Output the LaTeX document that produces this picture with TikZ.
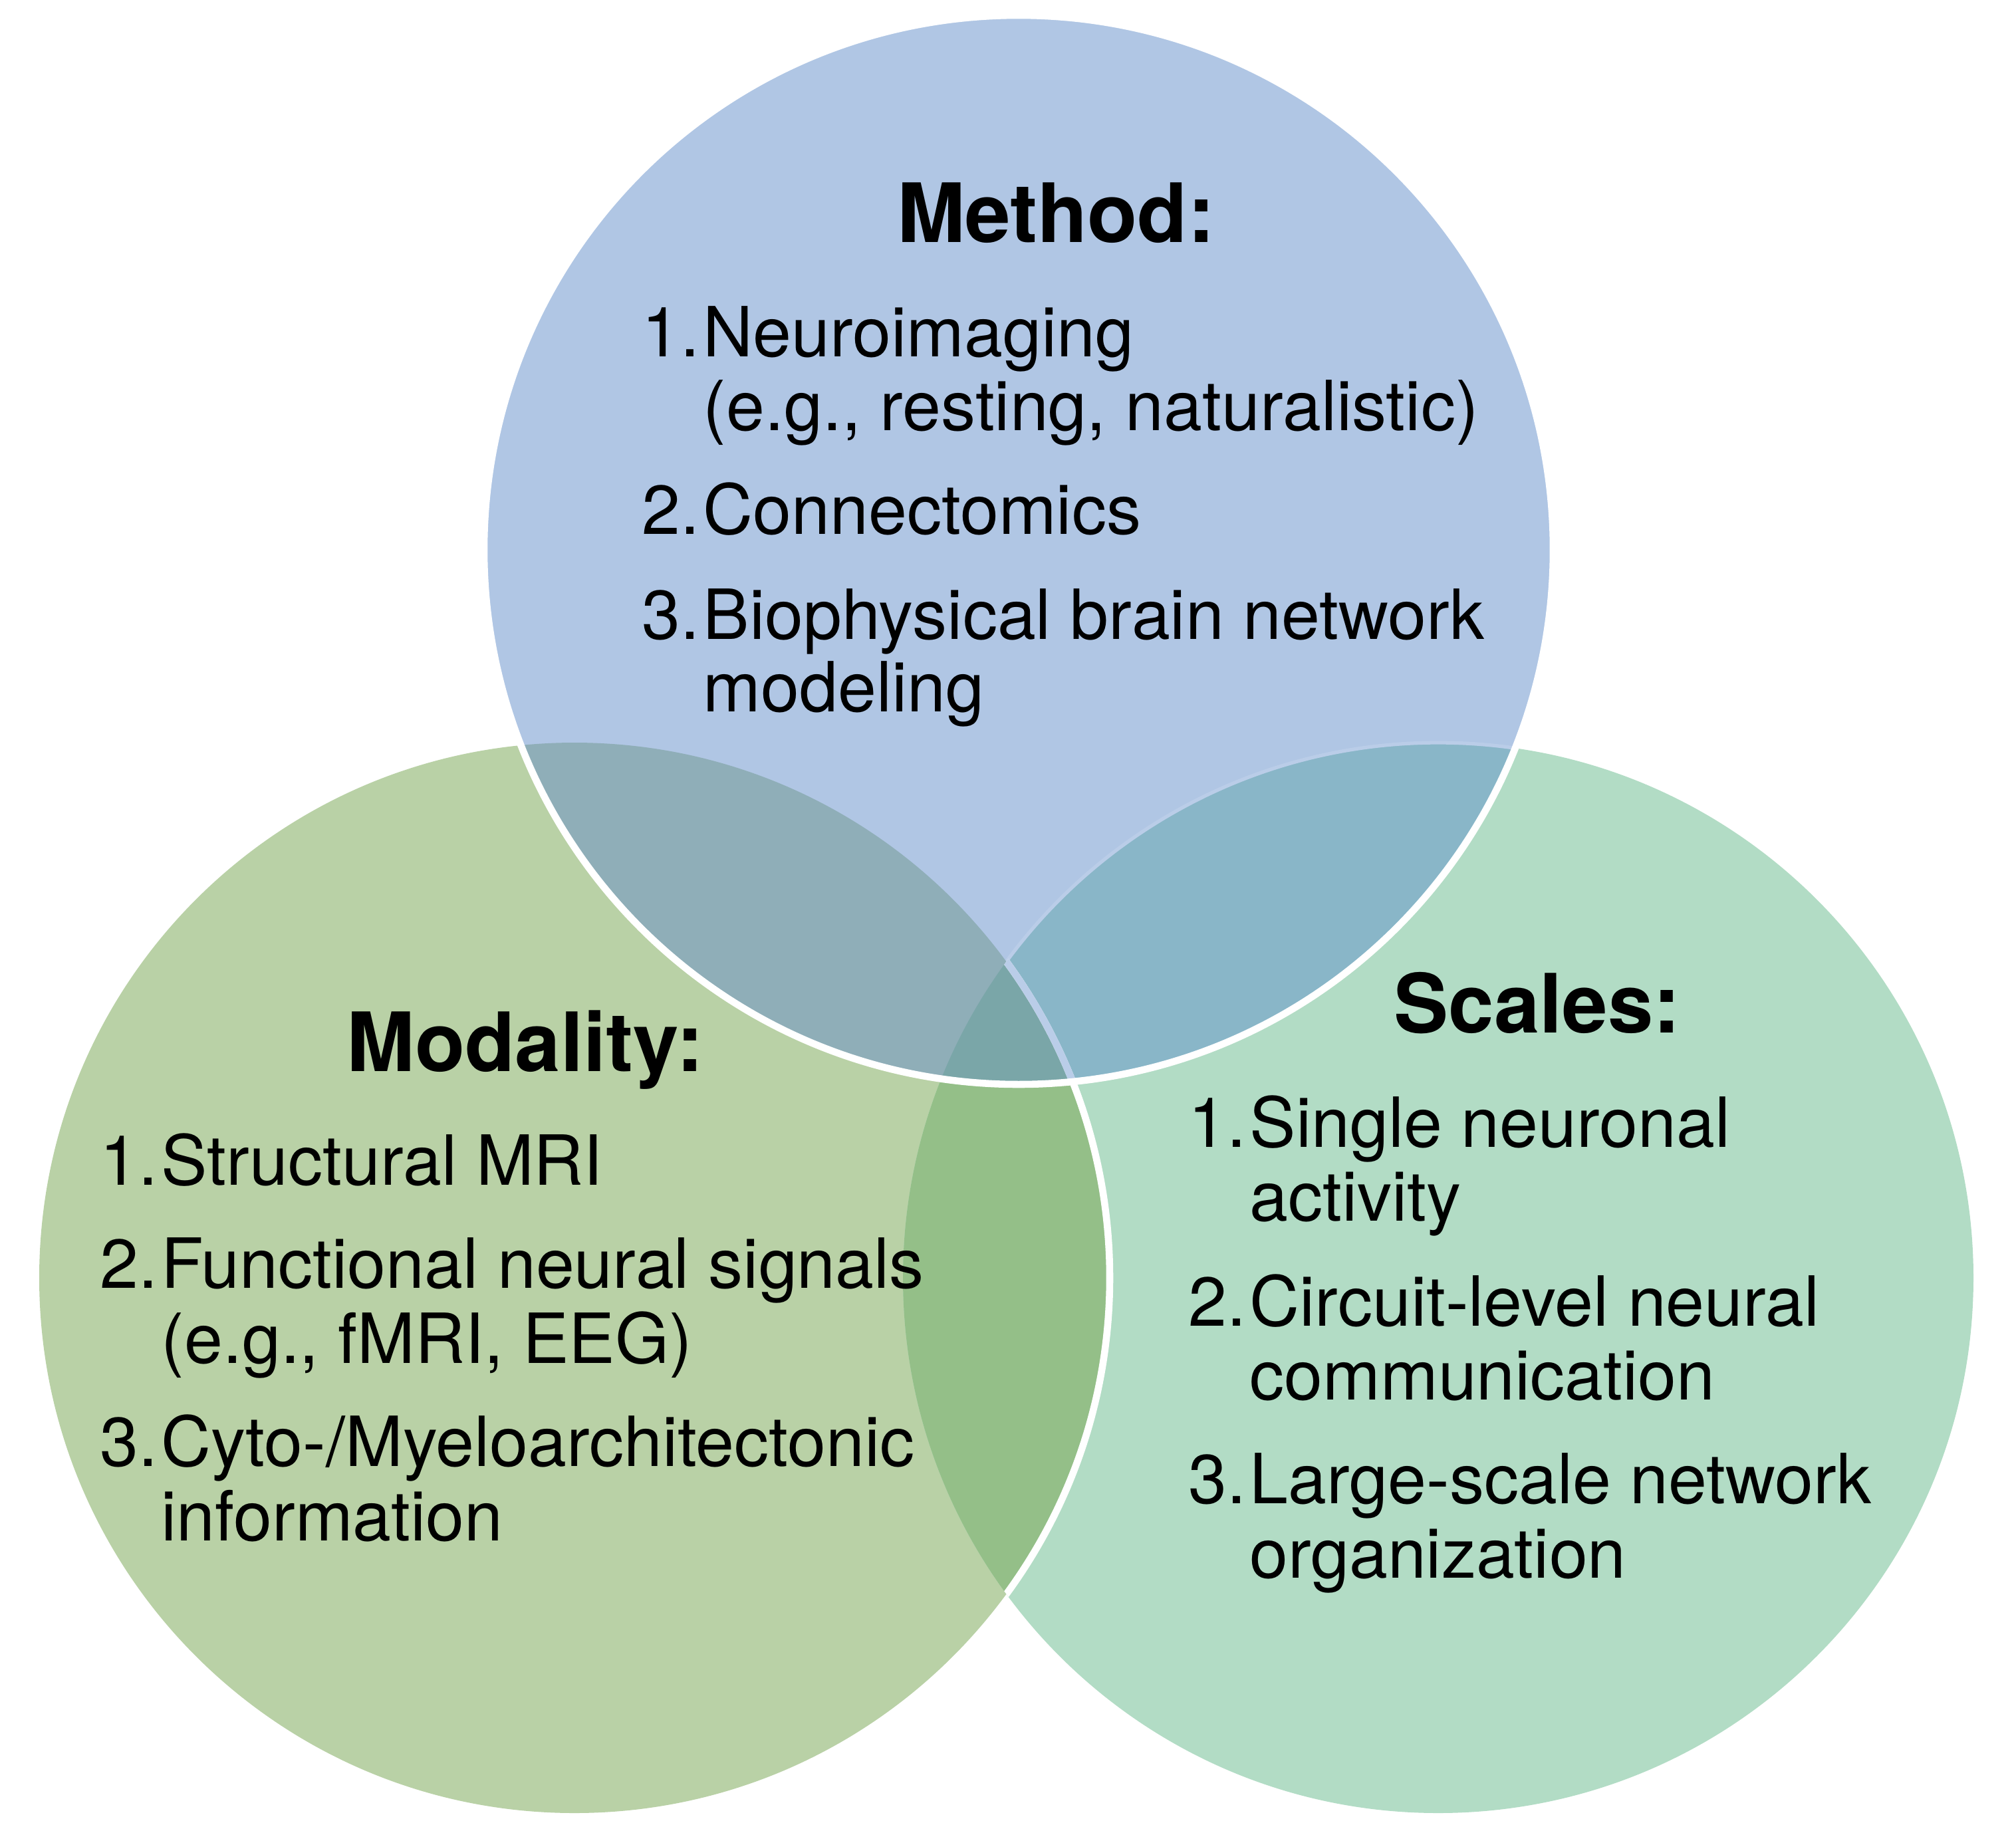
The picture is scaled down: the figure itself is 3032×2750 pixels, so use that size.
\documentclass[tikz,border=0pt]{standalone}
\usepackage{fontspec}
\setmainfont{TeX Gyre Heros}
\usepackage{tikz}

\definecolor{methodblue}{HTML}{B0C6E4}
\definecolor{modgreen}{HTML}{B9D1A6}
\definecolor{scalegreen}{HTML}{B2DCC5}
\definecolor{mixMethMod}{HTML}{8FAEB8}
\definecolor{mixMethSca}{HTML}{89B6C8}
\definecolor{mixModSca}{HTML}{94BF88}
\definecolor{mixAll}{HTML}{7AA6A8}
\definecolor{edgeblue}{HTML}{BACDE8}

\newcommand{\circMethod}{(1532,827) circle [radius=804]}
\newcommand{\circModality}{(864,1922) circle [radius=805]}
\newcommand{\circScales}{(2163,1922) circle [radius=805]}

\tikzset{
  ttl/.style={font=\bfseries\fontsize{35}{42}\selectfont, anchor=base, inner sep=0},
  itm/.style={font=\fontsize{29.6}{35}\selectfont, anchor=base west, inner sep=0},
  num/.style={font=\fontsize{29.6}{35}\selectfont, anchor=base east, inner sep=0},
}

\begin{document}
\begin{tikzpicture}[x=0.01cm, y=-0.01cm]
\useasboundingbox (0,0) rectangle (3032,2750);

% base discs
\fill[modgreen] \circModality;
\fill[scalegreen] \circScales;
\begin{scope}
  \clip \circModality;
  \fill[mixModSca] \circScales;
\end{scope}
\fill[methodblue] \circMethod;

% overlaps with the method disc
\begin{scope}
  \clip \circMethod;
  \fill[mixMethSca] \circScales;
  \draw[edgeblue, line width=1.5] \circScales;
\end{scope}
\begin{scope}
  \clip \circMethod;
  \fill[mixMethMod] \circModality;
  \clip \circModality;
  \fill[mixAll] \circScales;
\end{scope}

% white edges
\begin{scope}
  \clip \circScales;
  \draw[white, line width=3] \circModality;
  \clip \circMethod;
  \draw[edgeblue, line width=3] \circModality;
\end{scope}
\draw[white, line width=3] \circMethod;

% Method
\node[ttl] (methodT) at (1588,364) {Method:};
\node[num] (m1) at (1053,536) {1.};
\node[itm] (m1a) at (1057,536) {Neuroimaging};
\node[itm] (m1b) at (1057,647) {(e.g., resting, naturalistic)};
\node[num] (m2) at (1053,803) {2.};
\node[itm] (m2a) at (1057,803) {Connectomics};
\node[num] (m3) at (1053,961) {3.};
\node[itm] (m3a) at (1057,961) {Biophysical brain network};
\node[itm] (m3b) at (1057,1070) {modeling};

% Modality
\node[ttl] (modT) at (790,1611) {Modality:};
\node[num] (d1) at (238,1782) {1.};
\node[itm] (d1a) at (242,1782) {Structural MRI};
\node[num] (d2) at (238,1937) {2.};
\node[itm] (d2a) at (242,1937) {Functional neural signals};
\node[itm] (d2b) at (242,2050) {(e.g., fMRI, EEG)};
\node[num] (d3) at (238,2205) {3.};
\node[itm] (d3a) at (242,2205) {Cyto-/Myeloarchitectonic};
\node[itm] (d3b) at (242,2317) {information};

% Scales
\node[ttl] (scaT) at (2312,1553) {Scales:};
\node[num] (s1) at (1875,1725) {1.};
\node[itm] (s1a) at (1879,1725) {Single neuronal};
\node[itm] (s1b) at (1879,1836) {activity};
\node[num] (s2) at (1875,1994) {2.};
\node[itm] (s2a) at (1879,1994) {Circuit-level neural};
\node[itm] (s2b) at (1879,2105) {communication};
\node[num] (s3) at (1875,2261) {3.};
\node[itm] (s3a) at (1879,2261) {Large-scale network};
\node[itm] (s3b) at (1879,2373) {organization};
\end{tikzpicture}
\end{document}
